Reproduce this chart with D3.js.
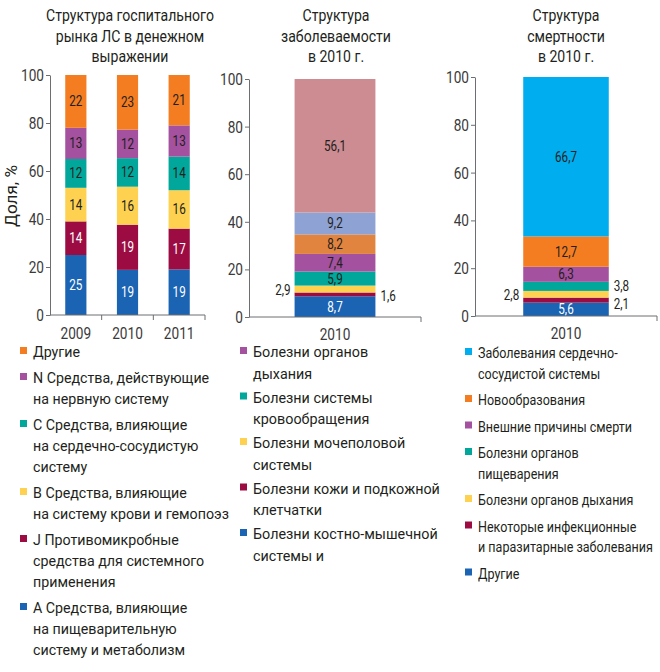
<!DOCTYPE html>
<html><head><meta charset="utf-8">
<script src="https://cdn.jsdelivr.net/npm/d3@7"></script>
<style>
body{margin:0;background:#fff;}
svg{font-family:Roboto,'Noto Sans',sans-serif;}
.axis path,.axis line{stroke:#6d6e71;stroke-width:1;}
.axis text{font-size:17px;fill:#3a3a3a;font-family:Roboto,'Noto Sans',sans-serif;}
</style></head>
<body>
<svg id="c" width="660" height="672"></svg>
<script>
// ---------- DATA ----------
const years = ["2009", "2010", "2011"];
const drugA = [25, 19, 19];
const drugJ = [14, 19, 17];
const drugB = [14, 16, 16];
const drugC = [12, 12, 14];
const drugN = [13, 12, 13];
const drugOther = [22, 23, 21];
const drugKeys = ["A", "J", "B", "C", "N", "Other"];
const drugColors = ["#1b63b3", "#9c0c43", "#fed250", "#00a79a", "#a4519f", "#f47d22"];
const drugLabelColors = ["#ffffff", "#ffffff", "#231f20", "#231f20", "#231f20", "#231f20"];
const drugLegend = [
  ["Другие"],
  ["N Средства, действующие", "на нервную систему"],
  ["С Средства, влияющие", "на сердечно-сосудистую", "систему"],
  ["В Средства, влияющие", "на систему крови и гемопоэз"],
  ["J Противомикробные", "средства для системного", "применения"],
  ["А Средства, влияющие", "на пищеварительную", "систему и метаболизм"]
];
const drugLegendColors = ["#f47d22", "#a4519f", "#00a79a", "#fed250", "#9c0c43", "#1b63b3"];

const morbYear = ["2010"];
const morbValues = [8.7, 1.6, 2.9, 5.9, 7.4, 8.2, 9.2, 56.1];
const morbLabels = ["8,7", "1,6", "2,9", "5,9", "7,4", "8,2", "9,2", "56,1"];
const morbColors = ["#1b63b3", "#9c0c43", "#fed250", "#00a79a", "#a4519f", "#e0843f", "#8ea2d3", "#cd8c91"];
const morbLabelColors = ["#ffffff", "#231f20", "#231f20", "#231f20", "#231f20", "#231f20", "#231f20", "#231f20"];
const morbLabelSide = ["in", "right", "left", "in", "in", "in", "in", "in"];
const morbLabelNudge = [0, 1, 0, 0, 0, 0, 0, 0];
const morbLegend = [
  ["Болезни органов", "дыхания"],
  ["Болезни системы", "кровообращения"],
  ["Болезни мочеполовой", "системы"],
  ["Болезни кожи и подкожной", "клетчатки"],
  ["Болезни костно-мышечной", "системы и"]
];
const morbLegendColors = ["#a4519f", "#00a79a", "#fed250", "#9c0c43", "#1b63b3"];

const mortYear = ["2010"];
const mortValues = [5.6, 2.1, 2.8, 3.8, 6.3, 12.7, 66.7];
const mortLabels = ["5,6", "2,1", "2,8", "3,8", "6,3", "12,7", "66,7"];
const mortColors = ["#1b63b3", "#9c0c43", "#fed250", "#00a79a", "#a4519f", "#f47d22", "#00adee"];
const mortLabelColors = ["#ffffff", "#231f20", "#231f20", "#231f20", "#231f20", "#231f20", "#231f20"];
const mortLabelSide = ["in", "right", "left", "right", "in", "in", "in"];
const mortLabelNudge = [0, 3, 0, -1, 0, 0, 0];
const mortLegend = [
  ["Заболевания сердечно-", "сосудистой системы"],
  ["Новообразования"],
  ["Внешние причины смерти"],
  ["Болезни органов", "пищеварения"],
  ["Болезни органов дыхания"],
  ["Некоторые инфекционные", "и паразитарные заболевания"],
  ["Другие"]
];
const mortLegendColors = ["#00adee", "#f47d22", "#a4519f", "#00a79a", "#fed250", "#9c0c43", "#1b63b3"];

const yTicks = [0, 20, 40, 60, 80, 100];

// ---------- DRAW ----------
const svg = d3.select("#c");
const TXT = "#231f20";

// measure helper to mimic the condensed typeface
function fit(str, size, target) {
  const t = svg.append("text").attr("font-size", size).text(str);
  const w = t.node().getComputedTextLength();
  t.remove();
  return target / w;
}
const SX_TITLE = fit("Структура госпитального", 16, 168);
const SX_LEG_L = fit("на систему крови и гемопоэз", 15.5, 196);
const SX_LEG_M = fit("Болезни кожи и подкожной", 15.5, 187);
const SX_LEG_R = fit("и паразитарные заболевания", 15.5, 175);
const SX_TICK = fit("100", 17, 23);
const SX_VAL = fit("56,1", 14, 22);
const SX_YL = fit("Доля, %", 16, 62);

function stext(x, y, str, size, sx, anchor, fill) {
  return svg.append("text").attr("transform", `translate(${x},${y}) scale(${sx},1)`)
    .attr("text-anchor", anchor || "start").attr("font-size", size).attr("fill", fill || TXT).text(str);
}

function title(cx, lines) {
  lines.forEach((l, i) => stext(cx, 21 + i * 20.5, l, 16, SX_TITLE, "middle"));
}

function condenseAxisText(g) {
  g.selectAll("text").each(function () {
    const s = d3.select(this);
    const x0 = +s.attr("x") || 0;
    s.attr("x", x0 / SX_TICK).attr("transform", `scale(${SX_TICK},1)`);
  });
}

function yAxis(x, y) {
  const g = svg.append("g").attr("class", "axis").attr("transform", `translate(${x},0)`)
    .call(d3.axisLeft(y).tickValues(yTicks).tickSize(4).tickPadding(2).tickSizeOuter(0));
  condenseAxisText(g);
}

function xAxis(x, yPos, labelY) {
  const g = svg.append("g").attr("class", "axis").attr("transform", `translate(0,${yPos})`);
  const [a, b] = x.range();
  g.append("line").attr("x1", a).attr("x2", b).attr("y1", 0).attr("y2", 0);
  const step = x.step();
  x.domain().forEach((d, i) => {
    g.append("line").attr("x1", a + step * (i + 1)).attr("x2", a + step * (i + 1)).attr("y1", 0).attr("y2", 5);
    g.append("text").attr("transform", `translate(${x(d) + x.bandwidth() / 2},${labelY}) scale(${SX_TICK},1)`)
      .attr("text-anchor", "middle").text(d);
  });
}

function legend(x0, y0, items, colors, gapLine, gapItem, sx) {
  let y = y0;
  items.forEach((lines, i) => {
    svg.append("rect").attr("x", x0).attr("y", y - 10).attr("width", 7).attr("height", 7).attr("fill", colors[i]);
    lines.forEach((l, j) => stext(x0 + 13, y + j * gapLine, l, 15.5, sx, "start"));
    y += lines.length * gapLine + gapItem;
  });
}

// ----- Left chart -----
{
  const x = d3.scaleBand().domain(years).range([50, 205]).paddingInner(0.59).paddingOuter(0.295);
  const y = d3.scaleLinear().domain([0, 100]).range([315, 75]);
  const rows = years.map((yr, i) => ({year: yr, A: drugA[i], J: drugJ[i], B: drugB[i], C: drugC[i], N: drugN[i], Other: drugOther[i]}));
  const stack = d3.stack().keys(drugKeys).offset(d3.stackOffsetExpand)(rows);
  title(130, ["Структура госпитального", "рынка ЛС в денежном", "выражении"]);
  stack.forEach((layer, k) => {
    layer.forEach((d, i) => {
      const y0 = y(d[0] * 100), y1 = y(d[1] * 100);
      svg.append("rect").attr("x", x(years[i])).attr("width", x.bandwidth())
        .attr("y", y1).attr("height", y0 - y1).attr("fill", drugColors[k]);
      stext(x(years[i]) + x.bandwidth() / 2, (y0 + y1) / 2 + 5, d.data[drugKeys[k]], 14, SX_VAL, "middle", drugLabelColors[k]);
    });
  });
  yAxis(50, y);
  xAxis(x, 315, 24);
  svg.append("text").attr("transform", `translate(17,196) rotate(-90) scale(${SX_YL},1)`).attr("text-anchor", "middle")
    .attr("font-size", 16).attr("fill", TXT).text("Доля, %");
  legend(20, 357, drugLegend, drugLegendColors, 21, 5, SX_LEG_L);
}

// ----- Single-bar charts -----
function single(axisX, axisEnd, yTop, yBot, yearArr, values, labels, colors, labelColors, sides, nudge, titleLines, titleX) {
  const x = d3.scaleBand().domain(yearArr).range([axisX, axisEnd]).paddingInner(0.53).paddingOuter(0.265);
  const y = d3.scaleLinear().domain([0, 100]).range([yBot, yTop]);
  const keys = values.map((v, i) => "k" + i);
  const row = {}; keys.forEach((k, i) => row[k] = values[i]);
  const stack = d3.stack().keys(keys)([row]);
  title(titleX, titleLines);
  stack.forEach((layer, k) => {
    const d = layer[0];
    const y0 = y(d[0]), y1 = y(d[1]);
    const bx = x(yearArr[0]), bw = x.bandwidth();
    svg.append("rect").attr("x", bx).attr("width", bw).attr("y", y1).attr("height", y0 - y1).attr("fill", colors[k]);
    const ly = (y0 + y1) / 2 + 5 + nudge[k];
    if (sides[k] === "in") stext(bx + bw / 2, ly, labels[k], 14, SX_VAL, "middle", labelColors[k]);
    else if (sides[k] === "left") stext(bx - 4, ly + 1, labels[k], 14, SX_VAL, "end", labelColors[k]);
    else stext(bx + bw + 5, ly + 1, labels[k], 14, SX_VAL, "start", labelColors[k]);
  });
  yAxis(axisX, y);
  xAxis(x, yBot, 23);
}

single(249, 421, 79, 317, morbYear, morbValues, morbLabels, morbColors, morbLabelColors, morbLabelSide, morbLabelNudge,
  ["Структура", "заболеваемости", "в 2010 г."], 336);
legend(240, 357, morbLegend, morbLegendColors, 21.5, 2.5, SX_LEG_M);

single(475, 657, 77, 316, mortYear, mortValues, mortLabels, mortColors, mortLabelColors, mortLabelSide, mortLabelNudge,
  ["Структура", "смертности", "в 2010 г."], 566);
legend(465, 358, mortLegend, mortLegendColors, 20.5, 6, SX_LEG_R);
</script>
</body></html>
